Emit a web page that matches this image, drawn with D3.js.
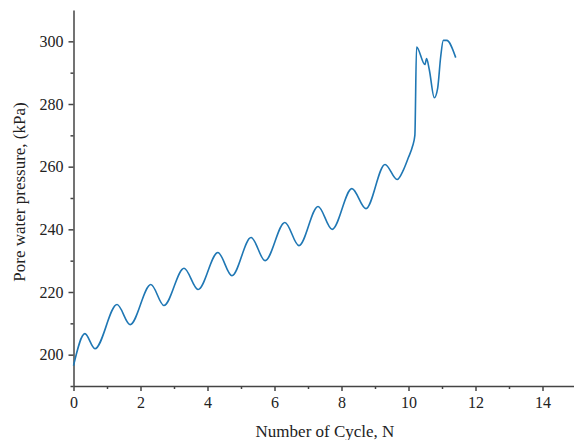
<!DOCTYPE html>
<html>
<head>
<meta charset="utf-8">
<script src="https://cdn.jsdelivr.net/npm/d3@7"></script>
<style>
  body { margin: 0; background: #fff; }
  svg { display: block; }
  .axis text { font-family: "Liberation Serif", "Times New Roman", serif; font-size: 16px; fill: #222; }
  .axis path, .axis line { stroke: #444; stroke-width: 1.5; }
  .title { font-family: "Liberation Serif", "Times New Roman", serif; font-size: 17px; fill: #222; }
</style>
</head>
<body>
<div id="container"></div>
<script>
const cycles = [0, 0.34, 0.64, 1.3, 1.69, 2.31, 2.70, 3.3, 3.72, 4.31, 4.73, 5.30, 5.72,
  6.31, 6.73, 7.30, 7.72, 8.31, 8.73, 9.30, 9.66, 9.85, 10.0, 10.12, 10.19, 10.24,
  10.49, 10.54, 10.62, 10.77, 10.87, 10.96, 11.04, 11.14, 11.41];
const pressures = [196.5, 206.7, 201.9, 216, 209.6, 222.4, 215.7, 227.6, 220.8, 232.6, 225.2,
  237.4, 230, 242.2, 234.8, 247.3, 240, 253, 246.6, 260.7, 255.9, 259, 263, 266.5, 270, 298.2,
  292.6, 294.5, 291, 282, 285, 295, 300.3, 300.3, 294.8];

const xTicks = [0, 2, 4, 6, 8, 10, 12, 14];
const yTicks = [200, 220, 240, 260, 280, 300];

const w = 574;
const h = 440;
const padLeft = 73.5;
const padTop = 10;
const axisBottom = 386;

const data = cycles.map((c, i) => ({ n: c, p: pressures[i] }));

const xScale = d3.scaleLinear().domain([0, 15]).range([padLeft, padLeft + 33.5 * 15]);
const yScale = d3.scaleLinear().domain([190, 310]).range([axisBottom, padTop]);

const svg = d3.select("#container")
  .append("svg")
  .attr("width", w)
  .attr("height", h);

// minor ticks first, then major axis on top
svg.append("g")
  .attr("class", "axis")
  .attr("transform", `translate(0, ${axisBottom})`)
  .call(d3.axisBottom(xScale).tickValues(d3.range(1, 15, 2)).tickSize(3).tickFormat(""))
  .call(g => g.select(".domain").remove());

svg.append("g")
  .attr("class", "axis")
  .attr("transform", `translate(${padLeft}, 0)`)
  .call(d3.axisLeft(yScale).tickValues(d3.range(190, 310, 20)).tickSize(3).tickFormat(""))
  .call(g => g.select(".domain").remove());

svg.append("g")
  .attr("class", "axis")
  .attr("transform", `translate(0, ${axisBottom})`)
  .call(d3.axisBottom(xScale).tickValues(xTicks).tickSize(5).tickSizeOuter(0).tickPadding(6));

svg.append("g")
  .attr("class", "axis")
  .attr("transform", `translate(${padLeft}, 0)`)
  .call(d3.axisLeft(yScale).tickValues(yTicks).tickSize(5).tickSizeOuter(0).tickPadding(5));

svg.append("text")
  .attr("class", "title")
  .attr("x", 325)
  .attr("y", 437)
  .attr("text-anchor", "middle")
  .text("Number of Cycle, N");

svg.append("text")
  .attr("class", "title")
  .attr("transform", `translate(25, 192) rotate(-90)`)
  .attr("text-anchor", "middle")
  .text("Pore water pressure, (kPa)");

const line = d3.line()
  .x(d => xScale(d.n))
  .y(d => yScale(d.p))
  .curve(d3.curveMonotoneX);

svg.append("path")
  .datum(data)
  .attr("fill", "none")
  .attr("stroke", "#1f77b4")
  .attr("stroke-width", 1.6)
  .attr("d", line);
</script>
</body>
</html>
